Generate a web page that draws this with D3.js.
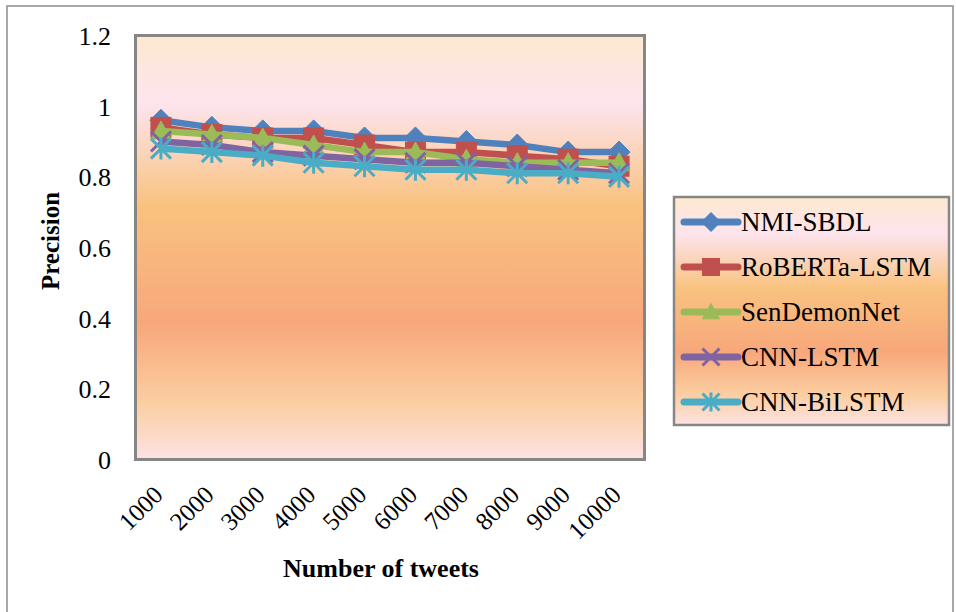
<!DOCTYPE html>
<html>
<head>
<meta charset="utf-8">
<script src="https://cdn.jsdelivr.net/npm/d3@7"></script>
<style>
  html, body { margin: 0; padding: 0; background: #ffffff; }
  svg { display: block; }
  text { font-family: "Liberation Serif", "Times New Roman", serif; fill: #000; }
</style>
</head>
<body>
<svg id="chart" width="956" height="612"></svg>
<script>
// Data
const categories = ["1000", "2000", "3000", "4000", "5000", "6000", "7000", "8000", "9000", "10000"];
const seriesNames = ["NMI-SBDL", "RoBERTa-LSTM", "SenDemonNet", "CNN-LSTM", "CNN-BiLSTM"];
const nmiSbdl     = [0.96, 0.94, 0.93, 0.93, 0.91, 0.91, 0.90, 0.89, 0.87, 0.87];
const robertaLstm = [0.94, 0.92, 0.91, 0.91, 0.89, 0.87, 0.87, 0.86, 0.85, 0.83];
const senDemonNet = [0.93, 0.92, 0.91, 0.89, 0.87, 0.87, 0.85, 0.84, 0.84, 0.84];
const cnnLstm     = [0.90, 0.89, 0.87, 0.86, 0.85, 0.84, 0.84, 0.83, 0.82, 0.81];
const cnnBiLstm   = [0.88, 0.87, 0.86, 0.84, 0.83, 0.82, 0.82, 0.81, 0.81, 0.80];
const yTicks = [0, 0.2, 0.4, 0.6, 0.8, 1, 1.2];

const seriesValues = [nmiSbdl, robertaLstm, senDemonNet, cnnLstm, cnnBiLstm];
const colors = ["#4f81bd", "#c0504d", "#9bbb59", "#8064a2", "#4bacc6"];
const markers = ["diamond", "square", "triangle", "x", "star"];

const svg = d3.select("#chart");

// Chart background & outer frame
svg.append("rect").attr("x", 0).attr("y", 0).attr("width", 956).attr("height", 612).attr("fill", "#fff");
svg.append("path")
  .attr("d", "M7,614 L7,6 L953,6 L953,614")
  .attr("fill", "none").attr("stroke", "#8c8c8c").attr("stroke-width", 1.5);

// Gradient fill shared by plot area and legend
const defs = svg.append("defs");
const grad = defs.append("linearGradient").attr("id", "sunset")
  .attr("x1", 0).attr("y1", 0).attr("x2", 0).attr("y2", 1);
[
  [0.00, "#fde9cf"],
  [0.16, "#fde4ee"],
  [0.40, "#f9c27f"],
  [0.68, "#f8a77b"],
  [0.87, "#fbcfa2"],
  [1.00, "#fde2e4"]
].forEach(([o, c]) => grad.append("stop").attr("offset", o).attr("stop-color", c));

// Plot area
const plot = { left: 135.5, top: 35.5, right: 644.5, bottom: 459.5 };

const x = d3.scalePoint().domain(categories).range([plot.left, plot.right]).padding(0.5);
const y = d3.scaleLinear().domain([0, 1.2]).range([plot.bottom, plot.top]);

svg.append("rect")
  .attr("x", plot.left).attr("y", plot.top)
  .attr("width", plot.right - plot.left).attr("height", plot.bottom - plot.top)
  .attr("fill", "url(#sunset)").attr("stroke", "#868686").attr("stroke-width", 3);

// Y axis labels
const yAxis = d3.axisLeft(y).tickValues(yTicks).tickSize(0).tickPadding(0)
  .tickFormat(d => d3.format("~g")(d));
const gy = svg.append("g").attr("transform", "translate(111,0)").call(yAxis);
gy.select(".domain").remove();
gy.selectAll("text").attr("font-size", 26).attr("font-family", "Liberation Serif, serif").attr("dy", "0.35em");

// X axis labels, rotated
const xAxis = d3.axisBottom(x).tickSize(0).tickPadding(0);
const gx = svg.append("g").attr("transform", `translate(0,${plot.bottom})`).call(xAxis);
gx.select(".domain").remove();
gx.selectAll("text")
  .attr("font-size", 25).attr("font-family", "Liberation Serif, serif")
  .attr("text-anchor", "end")
  .attr("dy", 0).attr("y", 0)
  .attr("transform", "translate(3,37) rotate(-45)");

// Axis titles
svg.append("text")
  .attr("transform", "translate(59,241) rotate(-90)")
  .attr("text-anchor", "middle")
  .attr("font-size", 25).attr("font-weight", "bold")
  .text("Precision");

svg.append("text")
  .attr("x", 381).attr("y", 577)
  .attr("text-anchor", "middle")
  .attr("font-size", 26).attr("font-weight", "bold")
  .text("Number of tweets");

// Marker drawing
function drawMarker(g, kind, cx, cy, color, s) {
  const h = s / 2;
  if (kind === "diamond") {
    g.append("path").attr("d", `M${cx},${cy - h - 1}L${cx + h + 1},${cy}L${cx},${cy + h + 1}L${cx - h - 1},${cy}Z`)
      .attr("fill", color).attr("stroke", color).attr("stroke-width", 1);
  } else if (kind === "square") {
    g.append("rect").attr("x", cx - h).attr("y", cy - h).attr("width", s).attr("height", s)
      .attr("fill", color).attr("stroke", color).attr("stroke-width", 1);
  } else if (kind === "triangle") {
    g.append("path").attr("d", `M${cx},${cy - h}L${cx + h},${cy + h * 0.8}L${cx - h},${cy + h * 0.8}Z`)
      .attr("fill", color).attr("stroke", color).attr("stroke-width", 1);
  } else if (kind === "x") {
    g.append("path").attr("d", `M${cx - h},${cy - h}L${cx + h},${cy + h}M${cx - h},${cy + h}L${cx + h},${cy - h}`)
      .attr("fill", "none").attr("stroke", color).attr("stroke-width", 3);
  } else if (kind === "star") {
    g.append("path").attr("d", `M${cx - h},${cy - h}L${cx + h},${cy + h}M${cx - h},${cy + h}L${cx + h},${cy - h}M${cx},${cy - h - 1}L${cx},${cy + h + 1}`)
      .attr("fill", "none").attr("stroke", color).attr("stroke-width", 3);
  }
}

// Series lines and markers
const line = d3.line().x((d, i) => x(categories[i])).y(d => y(d));
seriesValues.forEach((vals, si) => {
  const g = svg.append("g");
  g.append("path").datum(vals).attr("d", line)
    .attr("fill", "none").attr("stroke", colors[si]).attr("stroke-width", 6.5)
    .attr("stroke-linejoin", "round");
  vals.forEach((v, i) => drawMarker(g, markers[si], x(categories[i]), y(v), colors[si], 20));
});

// Legend
const legend = { x: 674, y: 197, w: 275, h: 228 };
svg.append("rect")
  .attr("x", legend.x).attr("y", legend.y).attr("width", legend.w).attr("height", legend.h)
  .attr("fill", "url(#sunset)").attr("stroke", "#868686").attr("stroke-width", 2.5);

seriesNames.forEach((name, si) => {
  const cy = 222 + si * 45;
  const g = svg.append("g");
  g.append("line").attr("x1", 684).attr("x2", 738).attr("y1", cy).attr("y2", cy)
    .attr("stroke", colors[si]).attr("stroke-width", 7).attr("stroke-linecap", "round");
  drawMarker(g, markers[si], 711, cy, colors[si], 17);
  g.append("text").attr("x", 741).attr("y", cy).attr("dy", "0.35em")
    .attr("font-size", 27).text(name);
});
</script>
</body>
</html>
